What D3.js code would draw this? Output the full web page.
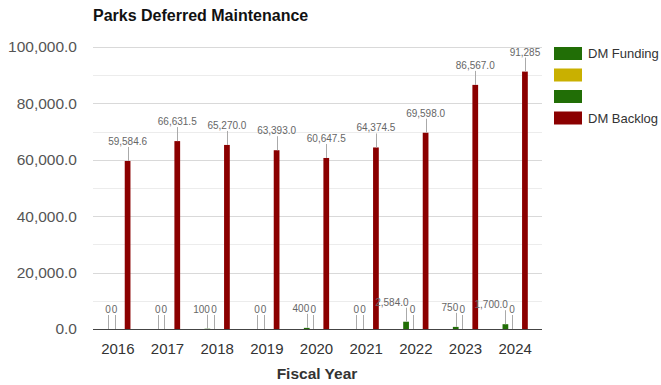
<!DOCTYPE html>
<html>
<head>
<meta charset="utf-8">
<script src="https://cdn.jsdelivr.net/npm/d3@7"></script>
<style>
  html, body { margin: 0; padding: 0; background: #fff; }
  svg { display: block; font-family: "Liberation Sans", Arial, sans-serif; }
</style>
</head>
<body>
<svg id="chart" width="661" height="385"></svg>
<script>
const years = ["2016","2017","2018","2019","2020","2021","2022","2023","2024"];
const seriesNames = ["DM Funding", "", "", "DM Backlog"];
const seriesColors = ["#216e06", "#c9b000", "#216e06", "#8b0000"];
const dmFunding = [0, 0, 100, 0, 400, 0, 2584, 750, 1700];
const fundingLabels = ["0","0","100","0","400","0","2,584.0","750","1,700.0"];
const seriesYellow = [0, 0, 0, 0, 0, 0, 0, 0, 0];
const seriesGreen2 = [0, 0, 0, 0, 0, 0, 0, 0, 0];
const dmBacklog = [59584.6, 66631.5, 65270.0, 63393.0, 60647.5, 64374.5, 69598.0, 86567.0, 91285];
const backlogLabels = ["59,584.6","66,631.5","65,270.0","63,393.0","60,647.5","64,374.5","69,598.0","86,567.0","91,285"];
const yTicks = [0, 20000, 40000, 60000, 80000, 100000];
const yMinorTicks = [10000, 30000, 50000, 70000, 90000];
const labeledSeries = [true, true, false, true];

const allSeries = [dmFunding, seriesYellow, seriesGreen2, dmBacklog];

const svg = d3.select("#chart");
const pLeft = 93, pRight = 540, pTop = 47, pBottom = 329;

const x0 = d3.scaleBand().domain(years).range([pLeft, pRight]).paddingInner(0.46).paddingOuter(0.23);
const x1 = d3.scaleBand().domain(d3.range(4)).range([0, x0.bandwidth()]).padding(0.12);
const y = d3.scaleLinear().domain([0, 100000]).range([pBottom, pTop]);

// gridlines
const g = svg.append("g");
g.selectAll("line.minor").data(yMinorTicks).join("line")
  .attr("x1", pLeft).attr("x2", 542)
  .attr("y1", d => Math.round(y(d)) + 0.5).attr("y2", d => Math.round(y(d)) + 0.5)
  .attr("stroke", "#ececec");
g.selectAll("line.major").data(yTicks.filter(d => d > 0)).join("line")
  .attr("x1", pLeft).attr("x2", 542)
  .attr("y1", d => Math.round(y(d)) + 0.5).attr("y2", d => Math.round(y(d)) + 0.5)
  .attr("stroke", "#d9d9d9");

// y axis labels
const fmtAxis = d3.format(",.1f");
svg.append("g").selectAll("text").data(yTicks).join("text")
  .attr("x", 77).attr("y", d => y(d)).attr("dy", "0.35em")
  .attr("text-anchor", "end").attr("font-size", 15.5).attr("fill", "#555")
  .text(d => fmtAxis(d));

// bars
const groups = svg.append("g").selectAll("g").data(years).join("g")
  .attr("transform", d => `translate(${x0(d)},0)`);

const cells = years.map((yr, i) => allSeries.map((s, k) => ({yr, i, k, v: s[i]})));

groups.selectAll("rect").data((d, i) => cells[i]).join("rect")
  .attr("x", d => x1(d.k))
  .attr("width", x1.bandwidth())
  .attr("y", d => y(d.v))
  .attr("height", d => pBottom - y(d.v))
  .attr("fill", d => seriesColors[d.k]);

// labels with leader lines
const labelData = cells.flat().filter(d => labeledSeries[d.k]);
const lg = svg.append("g");
labelData.forEach(d => {
  const cx = x0(d.yr) + x1(d.k) + x1.bandwidth() / 2;
  const ty = y(d.v);
  lg.append("line")
    .attr("x1", Math.round(cx) + 0.5).attr("x2", Math.round(cx) + 0.5)
    .attr("y1", ty - 14).attr("y2", ty)
    .attr("stroke", "#aaa").attr("stroke-width", 1);
  let txt, anchor = "middle", tx = cx;
  if (d.k === 3) txt = backlogLabels[d.i];
  else if (d.k === 0) {
    txt = fundingLabels[d.i];
    if (d.v !== 0) { anchor = "end"; tx = cx + 2.5; }
  } else txt = "0";
  lg.append("text")
    .attr("x", tx).attr("y", ty - 16)
    .attr("text-anchor", anchor).attr("font-size", 10).attr("fill", "#666")
    .text(txt);
});

// baseline axis
svg.append("line").attr("x1", pLeft).attr("x2", 542)
  .attr("y1", pBottom + 0.5).attr("y2", pBottom + 0.5).attr("stroke", "#444");

// x axis labels
svg.append("g").selectAll("text").data(years).join("text")
  .attr("x", d => x0(d) + x0.bandwidth() / 2).attr("y", 354)
  .attr("text-anchor", "middle").attr("font-size", 15).attr("fill", "#333")
  .text(d => d);

// axis title
svg.append("text").attr("x", 317).attr("y", 379).attr("text-anchor", "middle")
  .attr("font-size", 15.5).attr("font-weight", "bold").attr("fill", "#333").text("Fiscal Year");

// title
svg.append("text").attr("x", 93).attr("y", 21)
  .attr("font-size", 16).attr("font-weight", "bold").attr("fill", "#111").text("Parks Deferred Maintenance");

// legend
const leg = svg.append("g").selectAll("g").data(seriesNames).join("g")
  .attr("transform", (d, i) => `translate(554,${47 + i * 21.5})`);
leg.append("rect").attr("width", 28).attr("height", 13).attr("fill", (d, i) => seriesColors[i]);
leg.append("text").attr("x", 34).attr("y", 6.5).attr("dy", "0.35em")
  .attr("font-size", 13).attr("fill", "#333").text(d => d);
</script>
</body>
</html>
